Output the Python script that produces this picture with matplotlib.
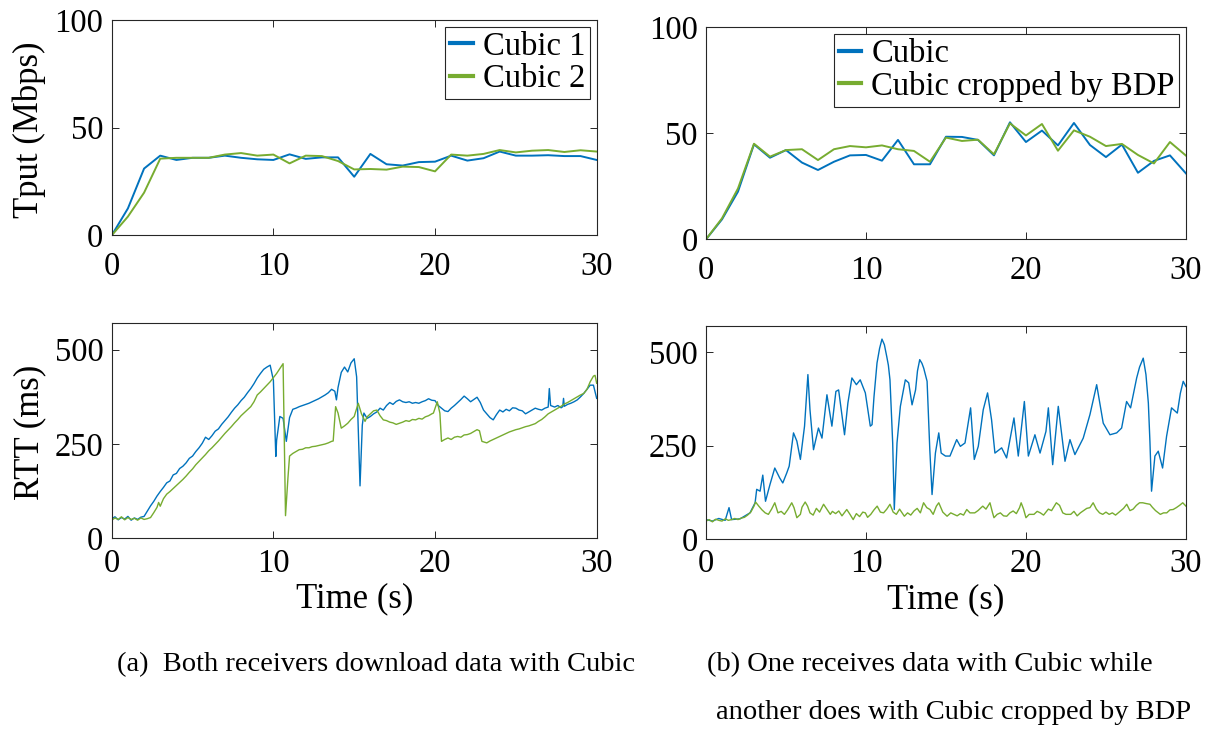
import numpy as np
import matplotlib
matplotlib.use("Agg")
import matplotlib.pyplot as plt

plt.rcParams['font.family'] = ['Liberation Serif', 'DejaVu Serif']

BLUE = '#0072BD'
GREEN = '#77AC30'
AXCOL = '#262626'

# throughput, one sample per second
t_sec = list(range(31))
tput_a_cubic1 = [0, 12.5, 31, 37, 35, 36, 36, 37, 36, 35.3, 35, 37.6, 35.5, 36.2, 36.2,
                 27.2, 37.8, 33, 32.4, 34, 34.2, 37, 34.7, 35.8, 38.9, 37, 37, 37.2, 36.8,
                 36.8, 35]
tput_a_cubic2 = [0, 8.7, 19.8, 35.6, 36, 36, 36, 37.5, 38.2, 37, 37.5, 33.4, 37, 36.8, 34.5,
                 30.6, 30.8, 30.5, 31.9, 31.7, 29.7, 37.5, 37, 37.8, 39.6, 38.5, 39.3, 39.6,
                 38.7, 39.5, 38.9]
tput_b_cubic = [0, 9.4, 22.5, 44.8, 38.5, 42.1, 36.2, 32.7, 36.6, 39.6, 39.8, 37.1, 46.9,
                35.4, 35.4, 48.4, 48.3, 46.9, 39.6, 55.2, 45.9, 51.3, 44.3, 54.9, 44.5, 38.8,
                44.7, 31.4, 37, 39.6, 31.1]
tput_b_bdp = [0, 9.9, 24, 45.1, 39, 42.1, 42.5, 37.4, 42.5, 44, 43.4, 44.3, 42.5, 41.7, 36.6,
              48, 46.4, 47, 40.1, 54.7, 49, 54.4, 41.8, 51.4, 48.4, 44, 45, 39.8, 35.8, 45.9,
              39.5]

# RTT traces (time in s, RTT in ms)
rtt_a1_t = [0.0, 0.2, 0.4, 0.6, 0.8, 1.0, 1.2, 1.4, 1.6, 1.8, 2.0, 2.2, 2.4, 2.6, 2.8, 3.0,
            3.2, 3.4, 3.6, 3.8, 4.0, 4.2, 4.4, 4.6, 4.8, 5.0, 5.2, 5.4, 5.6, 5.8, 6.0, 6.2,
            6.4, 6.6, 6.8, 7.0, 7.2, 7.4, 7.6, 7.8, 8.0, 8.2, 8.4, 8.6, 8.8, 9.0, 9.2, 9.4,
            9.6, 9.8, 10.0, 10.15, 10.2, 10.4, 10.6, 10.8, 11.0, 11.2, 11.4, 11.6, 11.8,
            12.0, 12.2, 12.4, 12.6, 12.8, 13.0, 13.2, 13.4, 13.6, 13.8, 13.9, 14.0, 14.2,
            14.4, 14.6, 14.8, 15.0, 15.15, 15.36, 15.5, 15.6, 15.8, 16.0, 16.2, 16.4, 16.6,
            16.8, 17.0, 17.2, 17.4, 17.6, 17.8, 18.0, 18.2, 18.4, 18.6, 18.8, 19.0, 19.2,
            19.4, 19.6, 19.8, 20.0, 20.2, 20.4, 20.6, 20.8, 21.0, 21.2, 21.4, 21.6, 21.8,
            22.0, 22.2, 22.4, 22.6, 22.8, 23.0, 23.2, 23.4, 23.6, 23.8, 24.0, 24.2, 24.4,
            24.6, 24.8, 25.0, 25.2, 25.4, 25.6, 25.8, 26.0, 26.2, 26.4, 26.6, 26.8, 27.0,
            27.07, 27.15, 27.4, 27.6, 27.8, 27.9, 27.95, 28.0, 28.2, 28.4, 28.6, 28.8, 29.0,
            29.2, 29.4, 29.6, 29.8, 30.0]
rtt_a1_v = [52, 57, 49, 55, 51, 58, 48, 54, 50, 56, 58, 72, 86, 98, 112, 124,
            135, 147, 152, 168, 172, 185, 191, 200, 212, 218, 230, 240, 252, 268, 262, 272,
            284, 290, 302, 312, 322, 334, 345, 354, 365, 374, 386, 397, 410, 425, 437, 448,
            454, 459, 419, 217, 260, 323, 318, 257, 320, 342, 345, 349, 352,
            355, 358, 362, 366, 370, 375, 380, 386, 395, 390, 367, 400, 440,
            454, 441, 465, 476, 428, 139, 300, 332, 318, 323, 330, 335, 345,
            340, 352, 360, 355, 363, 367, 362, 360, 362, 358, 360, 358, 362,
            365, 370, 366, 365, 352, 345, 338, 336, 345, 352, 360, 368, 377,
            370, 362, 368, 374, 360, 340, 330, 320, 314, 328, 340, 335, 342,
            338, 346, 345, 340, 338, 330, 335, 340, 345, 342, 340, 345, 348,
            397, 352, 348, 352, 346, 349, 371, 350, 355, 358, 362, 367, 375,
            384, 395, 406, 406, 371]

rtt_a2_t = [0.0, 0.2, 0.4, 0.6, 0.8, 1.0, 1.2, 1.4, 1.6, 1.8, 2.0, 2.2, 2.4, 2.6, 2.8, 2.9,
            3.0, 3.2, 3.4, 3.6, 3.8, 4.0, 4.2, 4.4, 4.6, 4.8, 5.0, 5.2, 5.4, 5.6, 5.8, 6.0,
            6.2, 6.4, 6.6, 6.8, 7.0, 7.2, 7.4, 7.6, 7.8, 8.0, 8.2, 8.4, 8.6, 8.8, 9.0, 9.2,
            9.4, 9.6, 9.8, 10.0, 10.2, 10.4, 10.6, 10.75, 10.9, 11.0, 11.2, 11.4, 11.6,
            11.8, 12.0, 12.2, 12.4, 12.6, 12.8, 13.0, 13.2, 13.4, 13.6, 13.7, 13.85, 14.0,
            14.2, 14.4, 14.6, 14.8, 15.0, 15.25, 15.45, 15.67, 15.8, 16.0, 16.2, 16.4, 16.6,
            16.8, 17.0, 17.2, 17.4, 17.6, 17.8, 18.0, 18.2, 18.4, 18.6, 18.8, 19.0, 19.2,
            19.4, 19.6, 19.8, 19.9, 20.14, 20.3, 20.4, 20.6, 20.8, 21.0, 21.2, 21.4, 21.6,
            21.8, 22.0, 22.2, 22.4, 22.6, 22.75, 22.9, 23.2, 23.4, 23.6, 23.8, 24.0, 24.2,
            24.4, 24.6, 24.8, 25.0, 25.2, 25.4, 25.6, 25.8, 26.0, 26.2, 26.4, 26.6, 26.8,
            27.0, 27.2, 27.4, 27.6, 27.8, 28.0, 28.2, 28.4, 28.6, 28.8, 29.0, 29.2, 29.4,
            29.6, 29.8, 29.9, 30.0]
rtt_a2_v = [48, 54, 50, 57, 49, 55, 50, 53, 48, 54, 50, 52, 55, 68, 82, 95,
            85, 105, 117, 124, 132, 140, 148, 156, 165, 175, 184, 195, 204, 213, 222, 232,
            240, 249, 258, 268, 278, 287, 296, 306, 315, 325, 333, 341, 349, 362, 380, 388,
            397, 406, 415, 426, 437, 450, 463, 60, 160, 218, 225, 230, 235,
            236, 240, 240, 243, 244, 246, 248, 250, 253, 257, 258, 349, 332,
            292, 298, 305, 315, 323, 358, 330, 310, 322, 330, 338, 340, 325,
            314, 312, 308, 306, 302, 305, 308, 312, 310, 315, 314, 318, 316,
            322, 325, 330, 332, 362, 332, 257, 262, 266, 262, 268, 270, 268,
            274, 275, 278, 283, 288, 285, 257, 253, 258, 262, 266, 270, 274,
            278, 282, 285, 288, 290, 293, 296, 298, 301, 304, 310, 315, 322,
            330, 335, 340, 345, 350, 356, 360, 365, 370, 375, 380, 384, 395,
            415, 430, 432, 411]

rtt_b1_t = [0.0, 0.4, 0.8, 1.2, 1.44, 1.6, 2.13, 2.75, 3.07, 3.17, 3.38, 3.55, 3.72, 4.0,
            4.3, 4.6, 4.8, 5.05, 5.2, 5.47, 5.68, 5.9, 6.16, 6.37, 6.5, 6.72, 7.03, 7.25,
            7.56, 7.87, 8.12, 8.29, 8.66, 8.87, 9.12, 9.4, 9.64, 9.96, 10.27, 10.38, 10.5,
            10.69, 10.85, 11.0, 11.15, 11.3, 11.4, 11.5, 11.67, 11.77, 11.94, 12.15, 12.46,
            12.67, 12.88, 13.1, 13.22, 13.36, 13.5, 13.61, 13.82, 13.99, 14.13, 14.34,
            14.55, 14.7, 14.97, 15.25, 15.67, 15.9, 16.19, 16.54, 16.77, 17.02, 17.33,
            17.6, 17.85, 18.06, 18.48, 18.79, 19.25, 19.52, 19.9, 20.15, 20.56, 20.88,
            21.25, 21.4, 21.67, 22.02, 22.44, 22.75, 23.06, 23.58, 24.0, 24.42, 24.83,
            25.25, 25.67, 25.98, 26.29, 26.54, 26.92, 27.1, 27.33, 27.5, 27.65, 27.75,
            27.85, 28.06, 28.27, 28.54, 28.79, 29.1, 29.46, 29.65, 29.83, 30.0]
rtt_b1_v = [52, 48, 55, 50, 84, 52, 54, 70, 97, 133, 128, 171, 101, 146,
            190, 164, 150, 177, 195, 284, 262, 213, 302, 440, 346, 239, 297, 270,
            386, 302, 395, 399, 279, 364, 431, 413, 426, 391, 302, 306, 380,
            471, 510, 535, 520, 488, 465, 426, 257, 79, 257, 355, 426,
            418, 359, 399, 450, 480, 470, 457, 422, 239, 119, 230,
            284, 230, 222, 222, 266, 248, 257, 351, 213, 248, 346,
            391, 319, 230, 244, 217, 324, 222, 368, 222, 279, 230,
            288, 351, 199, 355, 208, 266, 226, 270, 333, 413, 310,
            279, 284, 297, 368, 351, 431, 460, 484, 440, 364, 260,
            128, 222, 235, 190, 275, 351, 337, 390, 422, 408]

rtt_b2_t = [0.0, 0.2, 0.4, 0.6, 0.8, 1.0, 1.2, 1.4, 1.6, 1.8, 2.0, 2.2, 2.4, 2.6, 2.8, 3.0,
            3.1, 3.3, 3.5, 3.7, 3.9, 4.1, 4.3, 4.5, 4.7, 4.9, 5.1, 5.36, 5.5, 5.68, 5.9,
            6.0, 6.2, 6.35, 6.5, 6.7, 6.9, 7.1, 7.35, 7.55, 7.77, 7.9, 8.1, 8.3, 8.5, 8.8,
            9.0, 9.2, 9.4, 9.6, 9.8, 9.96, 10.1, 10.3, 10.5, 10.7, 10.9, 11.1, 11.3, 11.5,
            11.7, 11.9, 12.1, 12.4, 12.6, 12.8, 13.0, 13.2, 13.4, 13.6, 13.8, 14.0, 14.2,
            14.4, 14.55, 14.8, 15.07, 15.3, 15.5, 15.7, 15.9, 16.1, 16.3, 16.5, 16.8, 17.0,
            17.3, 17.5, 17.75, 17.9, 18.0, 18.2, 18.4, 18.6, 18.8, 19.0, 19.2, 19.4, 19.6,
            19.7, 19.85, 20.0, 20.2, 20.5, 20.7, 20.9, 21.1, 21.4, 21.6, 21.9, 22.1, 22.3,
            22.5, 22.8, 23.0, 23.2, 23.4, 23.6, 23.8, 24.0, 24.2, 24.4, 24.6, 24.8, 25.0,
            25.2, 25.4, 25.6, 25.9, 26.1, 26.3, 26.5, 26.7, 26.9, 27.1, 27.3, 27.5, 27.75,
            27.9, 28.1, 28.4, 28.6, 28.8, 29.0, 29.2, 29.4, 29.6, 29.8, 30.0]
rtt_b2_v = [48, 52, 46, 53, 50, 48, 54, 50, 52, 55, 52, 56, 58, 64, 72, 88,
            99, 88, 78, 70, 66, 80, 97, 70, 74, 66, 78, 97, 84, 57, 66,
            85, 99, 88, 70, 64, 82, 72, 93, 80, 66, 74, 68, 75, 62, 79,
            66, 52, 68, 60, 72, 70, 58, 66, 78, 88, 72, 70, 80, 93,
            72, 66, 80, 61, 70, 64, 75, 82, 70, 97, 84, 79, 66,
            88, 97, 72, 61, 70, 66, 62, 68, 64, 79, 70, 70, 76,
            88, 80, 97, 72, 57, 66, 70, 62, 61, 70, 75, 68, 84,
            97, 80, 57, 66, 66, 74, 70, 64, 80, 76, 97, 90, 70,
            66, 66, 74, 62, 70, 76, 82, 84, 97, 80, 70, 66, 72,
            66, 70, 64, 75, 82, 93, 76, 80, 90, 97, 97, 95, 93,
            85, 76, 66, 70, 70, 78, 79, 84, 90, 97, 88]

fig = plt.figure(figsize=(12.12, 7.29), dpi=100)

ax_tl = fig.add_axes([0.0922, 0.6772, 0.4001, 0.2954])
ax_tr = fig.add_axes([0.5825, 0.6717, 0.3960, 0.2908])
ax_bl = fig.add_axes([0.0922, 0.2616, 0.4001, 0.2949])
ax_br = fig.add_axes([0.5825, 0.2606, 0.3960, 0.2922])


def style(ax, yticks, ylim, xpad):
    ax.set_xlim(0, 30)
    ax.set_ylim(*ylim)
    ax.set_xticks([0, 10, 20, 30])
    ax.set_yticks(yticks)
    ax.tick_params(direction='in', top=True, right=True, length=5, width=0.7,
                   color=AXCOL, labelsize=23.5, labelcolor='black')
    ax.tick_params(axis='x', pad=xpad)
    ax.tick_params(axis='y', pad=6)
    for s in ax.spines.values():
        s.set_color(AXCOL)
        s.set_linewidth(0.8)


ax_tl.plot(t_sec, tput_a_cubic1, color=BLUE, lw=1.4, label='Cubic 1')
ax_tl.plot(t_sec, tput_a_cubic2, color=GREEN, lw=1.4, label='Cubic 2')
ax_tr.plot(t_sec, tput_b_cubic, color=BLUE, lw=1.4, label='Cubic')
ax_tr.plot(t_sec, tput_b_bdp, color=GREEN, lw=1.4, label='Cubic cropped by BDP')

ax_bl.plot(rtt_a1_t, rtt_a1_v, color=BLUE, lw=1.0)
ax_bl.plot(rtt_a2_t, rtt_a2_v, color=GREEN, lw=1.0)
ax_br.plot(rtt_b1_t, rtt_b1_v, color=BLUE, lw=1.0)
ax_br.plot(rtt_b2_t, rtt_b2_v, color=GREEN, lw=1.0)

for ax in (ax_tl, ax_tr):
    style(ax, [0, 50, 100], (0, 100), 12)
    leg = ax.legend(loc='upper right', fontsize=23.5, handlelength=0.7, handletextpad=0.3,
                    labelspacing=0.05, borderpad=0.15, borderaxespad=0.2, fancybox=False,
                    framealpha=1)
    leg.get_frame().set_edgecolor(AXCOL)
    leg.get_frame().set_linewidth(0.8)
    for h in leg.get_lines():
        h.set_linewidth(3)

for ax in (ax_bl, ax_br):
    style(ax, [0, 250, 500], (0, 570), 7)
    ax.set_xlabel('Time (s)', fontsize=25, labelpad=3)

ax_tl.set_ylabel('Tput (Mbps)', fontsize=25)
ax_tl.yaxis.set_label_coords(-0.135, 0.49)
ax_bl.set_ylabel('RTT (ms)', fontsize=25)
ax_bl.yaxis.set_label_coords(-0.135, 0.494)

fig.text(0.0965, 0.088, '(a)  Both receivers download data with Cubic', fontsize=20.5,
         ha='left', va='center')
fig.text(0.583, 0.088, '(b) One receives data with Cubic while', fontsize=20.5,
         ha='left', va='center')
fig.text(0.591, 0.023, 'another does with Cubic cropped by BDP', fontsize=20.5,
         ha='left', va='center')

fig.savefig('out.png', dpi=100)
